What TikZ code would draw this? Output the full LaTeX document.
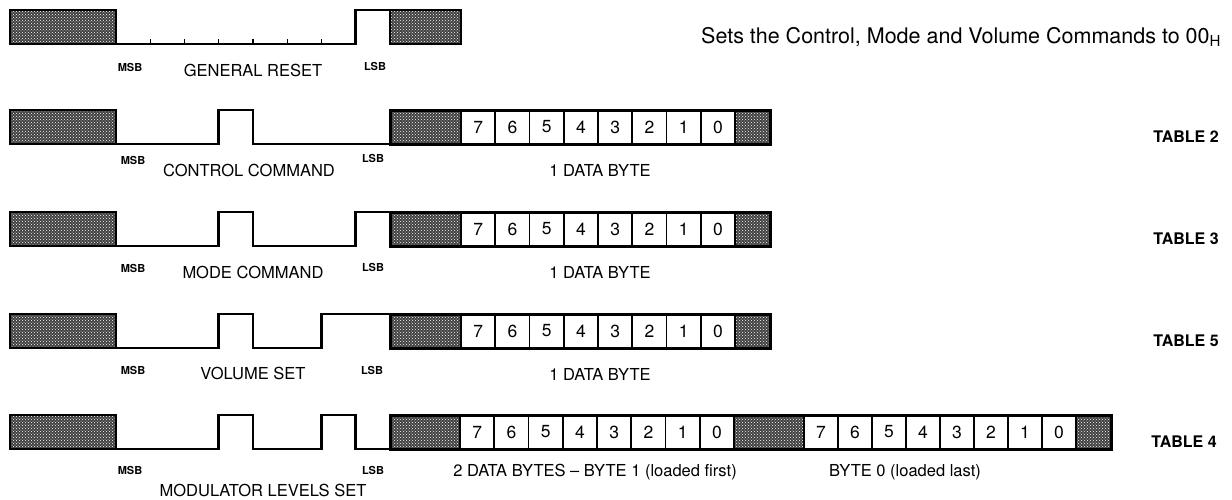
\documentclass[tikz,border=0pt]{standalone}
\usepackage{fontspec}
\setmainfont{TeX Gyre Heros}
\usetikzlibrary{patterns}

\begin{document}
\begin{tikzpicture}[x=1pt, y=-1pt,
    wave/.style={line width=2.6pt, line join=miter},
    shaded/.style={preaction={fill=black!75}, preaction={pattern=crosshatch dots, pattern color=white}, draw, line width=2.8pt},
    bitcell/.style={rectangle, draw, line width=1.6pt, minimum width=34.25pt, minimum height=34pt, inner sep=0pt, font=\fontsize{17.5}{17}\selectfont},
    endbit/.style={font=\bfseries\fontsize{11}{11}\selectfont, inner sep=0pt},
    cmdtext/.style={font=\fontsize{16.5}{17}\selectfont, inner sep=0pt},
    tablbl/.style={font=\bfseries\fontsize{16}{16}\selectfont, inner sep=0pt}]
    \useasboundingbox (0,0) rectangle (1232,499);

    % left idle blocks
    \foreach \t in {10,110,212,314,415}
        \draw [shaded] (10,\t) rectangle (116,\t+34);

    % general reset
    \draw [wave] (116,44) -- (355.75,44) -- (355.75,10) -- (390,10);
    \foreach \i in {1,...,6}
        \draw [line width=1.4pt] (116+34.25*\i,44) -- ++(0,-5);
    \draw [shaded] (390,10) rectangle (461,44);
    \node (msb1) [endbit] at (130,67) {MSB};
    \node (name1) [cmdtext] at (253,70) {GENERAL RESET};
    \node (lsb1) [endbit] at (375,66) {LSB};
    \node (note) [anchor=west, font=\fontsize{21.5}{22}\selectfont, inner sep=0pt] at (701,37) {Sets the Control, Mode and Volume Commands to 00\textsubscript{H}};

    % control command
    \draw [wave] (116,144) -- (218.75,144) -- (218.75,110) -- (253,110) -- (253,144) -- (390,144);
    \node (msb2) [endbit] at (133,160) {MSB};
    \node (name2) [cmdtext] at (249,170) {CONTROL COMMAND};
    \node (lsb2) [endbit] at (373,158) {LSB};

    % mode command
    \draw [wave] (116,246) -- (218.75,246) -- (218.75,212) -- (253,212) -- (253,246) -- (355.75,246) -- (355.75,212) -- (390,212);
    \node (msb3) [endbit] at (133,268) {MSB};
    \node (name3) [cmdtext] at (253,272) {MODE COMMAND};
    \node (lsb3) [endbit] at (373,267) {LSB};

    % volume set
    \draw [wave] (116,348) -- (218.75,348) -- (218.75,314) -- (253,314) -- (253,348) -- (321.5,348) -- (321.5,314) -- (390,314);
    \node (msb4) [endbit] at (133,370) {MSB};
    \node (name4) [cmdtext] at (253,373) {VOLUME SET};
    \node (lsb4) [endbit] at (372,370) {LSB};

    % one data byte rows
    \foreach \r/\t/\n in {2/110/2, 3/212/3, 4/314/5} {
        \draw [shaded] (390,\t) rectangle (461,\t+34);
        \draw [shaded] (735,\t) rectangle (770,\t+34);
        \foreach \b [count=\i from 0] in {7,...,0}
            \node (b\r-\b) [bitcell] at (478.125+34.25*\i,\t+17) {\b};
        \draw [line width=3pt] (390,\t) rectangle (770,\t+34);
        \node (byte\r) [cmdtext] at (600,\t+60) {1 DATA BYTE};
        \node (tab\r) [tablbl] at (1186,\t+27) {TABLE \n};
    }

    % modulator levels set
    \draw [wave] (116,449) -- (218.75,449) -- (218.75,415) -- (253,415) -- (253,449) -- (321.5,449) -- (321.5,415) -- (355.75,415) -- (355.75,449) -- (390,449);
    \draw [shaded] (390,415) rectangle (460,449);
    \foreach \b [count=\i from 0] in {7,...,0}
        \node (hi-\b) [bitcell] at (477.125+34.25*\i,432) {\b};
    \draw [shaded] (734,415) rectangle (804,449);
    \foreach \b [count=\i from 0] in {7,...,0}
        \node (lo-\b) [bitcell, minimum width=34pt] at (821+34*\i,432) {\b};
    \draw [shaded] (1076,415) rectangle (1111,449);
    \draw [line width=3pt] (390,415) rectangle (1111,449);
    \node (msb5) [endbit] at (130,470) {MSB};
    \node (name5) [cmdtext] at (263,490) {MODULATOR LEVELS SET};
    \node (lsb5) [endbit] at (373,470) {LSB};
    \node (byte5) [cmdtext] at (595,472) {2 DATA BYTES -- BYTE 1 (loaded first)};
    \node (byte5b) [cmdtext] at (905,472) {BYTE 0 (loaded last)};
    \node (tab5) [tablbl] at (1184,442) {TABLE 4};
\end{tikzpicture}
\end{document}
